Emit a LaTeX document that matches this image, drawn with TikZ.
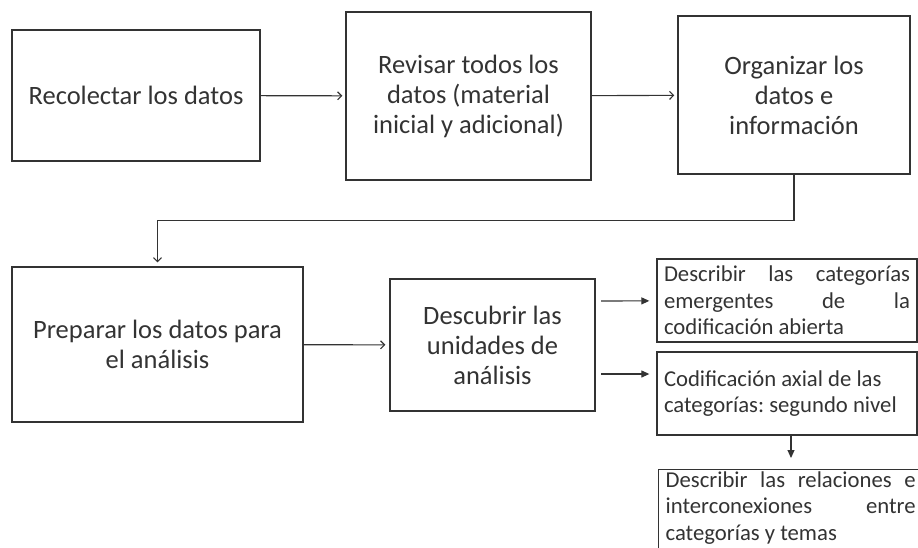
\documentclass[tikz,border=0pt]{standalone}
\usepackage{fontspec}
\setmainfont{Carlito}
\usepackage{xcolor}
\usetikzlibrary{positioning,arrows.meta}

\definecolor{tinta}{HTML}{333333}
\frenchspacing

\begin{document}
\begin{tikzpicture}[x=1pt, y=-1pt, shorten >=4pt, line width=1.1pt, draw=tinta,
    paso/.style={draw=tinta, line width=1.3pt, text=tinta, align=center,
        font=\fontsize{26.5}{30}\selectfont},
    nota/.style={draw=tinta, line width=1.3pt, text=tinta, inner xsep=7pt,
        font=\fontsize{22.7}{26.5}\selectfont},
    flecha/.style={-{Straight Barb[length=4pt,width=8pt]}},
    punta/.style={-{Triangle[length=8pt,width=7pt]}, shorten >=7pt}]

    \useasboundingbox (0,0) rectangle (918,547);

    % primera fila
    \node[paso, minimum width=248pt, minimum height=131pt] (rec) at (136,95.5) {Recolectar los datos};
    \node[paso, minimum width=245pt, minimum height=168pt] (rev) at (468.5,96) {Revisar todos los\\datos (material\\inicial y adicional)};
    \node[paso, minimum width=232pt, minimum height=158pt] (org) at (794,95) {Organizar los\\datos e\\información};

    % segunda fila
    \node[paso, minimum width=291pt, minimum height=155pt] (prep) at (157.5,344.5) {Preparar los datos para\\el análisis};
    \node[paso, minimum width=205pt, minimum height=132pt] (desc) at (492.5,345) {Descubrir las\\unidades de\\análisis};

    % categorias
    \node[nota, text width=246pt, align=justify, minimum height=83pt] (emerg) at (787,300.5)
        {Describir las categorías\linebreak emergentes de la\linebreak codificación abierta};
    \node[nota, text width=246pt, align=flush left, minimum height=83pt] (axial) at (787,393.5)
        {Codificación axial de las\\categorías: segundo nivel};
    \node[nota, text width=250pt, align=justify, inner ysep=2pt, text depth=70pt, anchor=north west] (relac) at (658,469)
        {Describir las relaciones e\linebreak interconexiones entre\linebreak categorías y temas};

    \coordinate (a0) at (601,301);
    \coordinate (b0) at (601,374);
    \coordinate (c0) at (791,458);

    \path[flecha]
        (rec) edge[shorten >=3pt] (rev)
        (rev) edge[shorten >=3pt] (org)
        (prep) edge (desc);

    \draw[flecha] (org.south) -- ++(0,46) -| (prep.north);

    \path[punta]
        (a0) edge (emerg)
        (b0) edge (axial.west |- b0)
        ([xshift=4pt]axial.south) edge[shorten >=0pt] (c0);

\end{tikzpicture}
\end{document}
